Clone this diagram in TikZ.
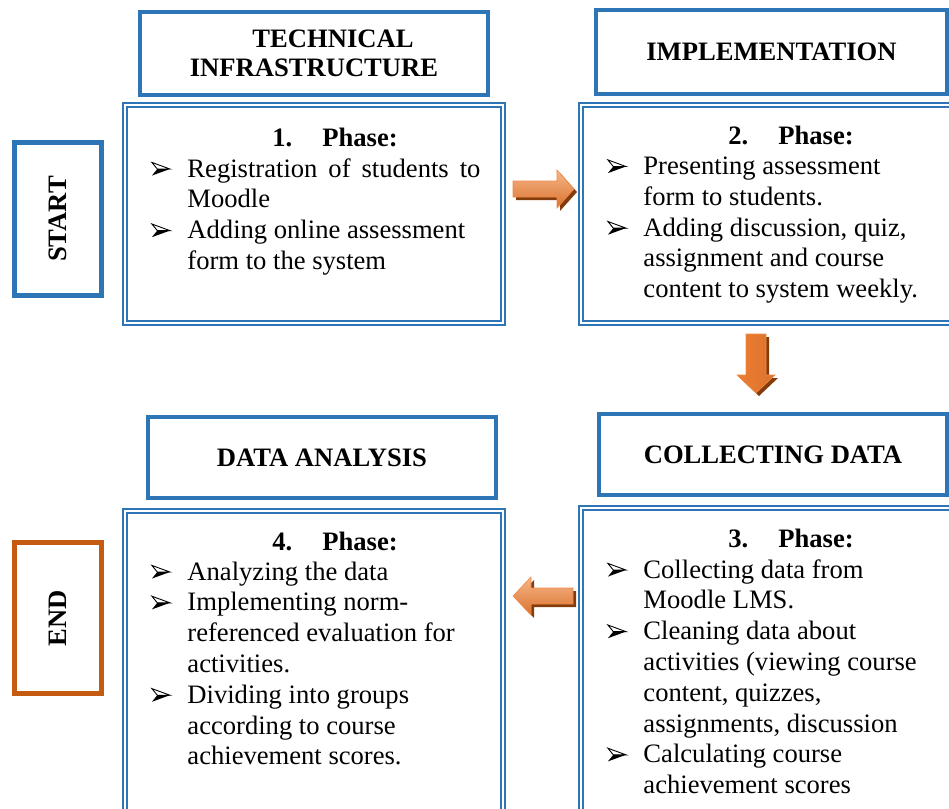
\documentclass[tikz,border=0pt]{standalone}
\usepackage{fontspec}
\setmainfont{Liberation Serif}
\definecolor{wblue}{HTML}{2E75B6}
\definecolor{worange}{HTML}{C55A11}
\definecolor{aorange}{HTML}{ED7D31}
\definecolor{alight}{HTML}{F6B68A}
\definecolor{ashadow}{HTML}{843C0C}
\newcommand{\bulshape}{\begin{pgfpicture}%
  \pgfsetbaseline{0pt}%
  \pgfsetlinewidth{0.45pt}%
  \pgfsetmiterjoin
  \pgfpathmoveto{\pgfpoint{0pt}{7.3pt}}\pgfpathlineto{\pgfpoint{9pt}{4pt}}\pgfpathlineto{\pgfpoint{2.7pt}{4pt}}\pgfpathclose
  \pgfusepath{stroke}%
  \pgfpathmoveto{\pgfpoint{2.7pt}{4pt}}\pgfpathlineto{\pgfpoint{9pt}{4pt}}\pgfpathlineto{\pgfpoint{0pt}{0.7pt}}\pgfpathclose
  \pgfusepath{fill}%
\end{pgfpicture}}
\newcommand{\mybul}{\makebox[18pt][l]{\bulshape}}
\tikzset{
  txt/.style={font=\fontsize{13.3}{15.4}\selectfont},
  hdr/.style={draw=wblue, line width=2pt, inner sep=0pt, align=center,
              font=\fontsize{13.3}{14.5}\selectfont\bfseries},
  endbox/.style={draw=#1, line width=2.5pt, inner sep=0pt,
              font=\fontsize{13.3}{15}\selectfont\bfseries},
  phasebox/.style={draw=wblue, line width=1.2pt, double=white, double distance=0.9pt, inner sep=0pt},
  body/.style={txt, inner sep=0pt, anchor=base west},
  phead/.style={inner sep=0pt, anchor=base west, font=\fontsize{13.3}{15.4}\selectfont\bfseries},
  arr/.style={draw=aorange!90!white, line width=0.3pt},
  arrshadow/.style={fill=ashadow, draw=none},
}
\begin{document}
\begin{tikzpicture}[x=0.5pt, y=-0.5pt]
\useasboundingbox (0,0) rectangle (949,809);
\clip (0,0) rectangle (949,809);

% START / END
\node[endbox=wblue, minimum width=43.5pt, minimum height=76.5pt] (start) at (58,219) {\rotatebox{90}{START}};
\node[endbox=worange, minimum width=43.5pt, minimum height=75.5pt] (end) at (58,618) {\rotatebox{90}{END}};

% headers
\node[hdr, minimum width=174pt, minimum height=41.5pt] (h1) at (314,53.5) {\hspace*{19pt}TECHNICAL\\INFRASTRUCTURE};
\node[hdr, minimum width=175.5pt, minimum height=42pt] (h2) at (771.5,52) {IMPLEMENTATION};
\node[hdr, minimum width=174pt, minimum height=40.5pt] (h3) at (773,454.5) {COLLECTING DATA};
\node[hdr, minimum width=174pt, minimum height=40.5pt] (h4) at (322,457.5) {DATA ANALYSIS};

% phase boxes
\node[phasebox, minimum width=189pt, minimum height=109pt] (p1) at (314,214) {};
\node[phasebox, minimum width=185.5pt, minimum height=109pt] (p2) at (766.5,214) {};
\node[phasebox, minimum width=185.5pt, minimum height=161pt] (p3) at (766.5,669) {};
\node[phasebox, minimum width=189pt, minimum height=159.5pt] (p4) at (314,670.5) {};

% phase headings
\node[phead] (t1) at (272,146) {1.\hspace{15pt}Phase:};
\node[phead] (t2) at (728,144) {2.\hspace{15pt}Phase:};
\node[phead] (t3) at (728,547) {3.\hspace{15pt}Phase:};
\node[phead] (t4) at (272,550) {4.\hspace{15pt}Phase:};

% phase bodies
\node[body] (b1) at (151,177) {\begin{tabular}[t]{@{}l@{}l@{}}
\mybul & \makebox[146.5pt][s]{Registration of students to}\\
 & Moodle\\
\mybul & Adding online assessment\\
 & form to the system
\end{tabular}};

\node[body] (b2) at (607,174.5) {\begin{tabular}[t]{@{}l@{}l@{}}
\mybul & Presenting assessment\\
 & form to students.\\
\mybul & Adding discussion, quiz,\\
 & assignment and course\\
 & content to system weekly.
\end{tabular}};

\node[body] (b3) at (607,578) {\begin{tabular}[t]{@{}l@{}l@{}}
\mybul & Collecting data from\\
 & Moodle LMS.\\
\mybul & Cleaning data about\\
 & activities (viewing course\\
 & content, quizzes,\\
 & assignments, discussion\\
\mybul & Calculating course\\
 & achievement scores
\end{tabular}};

\node[body] (b4) at (151,580) {\begin{tabular}[t]{@{}l@{}l@{}}
\mybul & Analyzing the data\\
\mybul & Implementing norm-\\
 & referenced evaluation for\\
 & activities.\\
\mybul & Dividing into groups\\
 & according to course\\
 & achievement scores.
\end{tabular}};

% block arrows (shadow first)
\fill[arrshadow, shift={(3,3)}] (513,181) -- (557,181) -- (557,170) -- (574,189) -- (557,208) -- (557,197) -- (513,197) -- cycle;
\path[arr, top color=alight, middle color=aorange, bottom color=aorange!92!black] (513,181) -- (557,181) -- (557,170) -- (574,189) -- (557,208) -- (557,197) -- (513,197) -- cycle;

\fill[arrshadow, shift={(3,3)}] (746,334) -- (766,334) -- (766,375) -- (775,375) -- (756,393) -- (737,375) -- (746,375) -- cycle;
\path[arr, left color=aorange, middle color=alight, right color=aorange!92!black] (746,334) -- (766,334) -- (766,375) -- (775,375) -- (756,393) -- (737,375) -- (746,375) -- cycle;

\fill[arrshadow, shift={(3,3)}] (573,588) -- (531,588) -- (531,577) -- (513,596) -- (531,615) -- (531,604) -- (573,604) -- cycle;
\path[arr, top color=alight, middle color=aorange, bottom color=aorange!92!black] (573,588) -- (531,588) -- (531,577) -- (513,596) -- (531,615) -- (531,604) -- (573,604) -- cycle;
\end{tikzpicture}
\end{document}
